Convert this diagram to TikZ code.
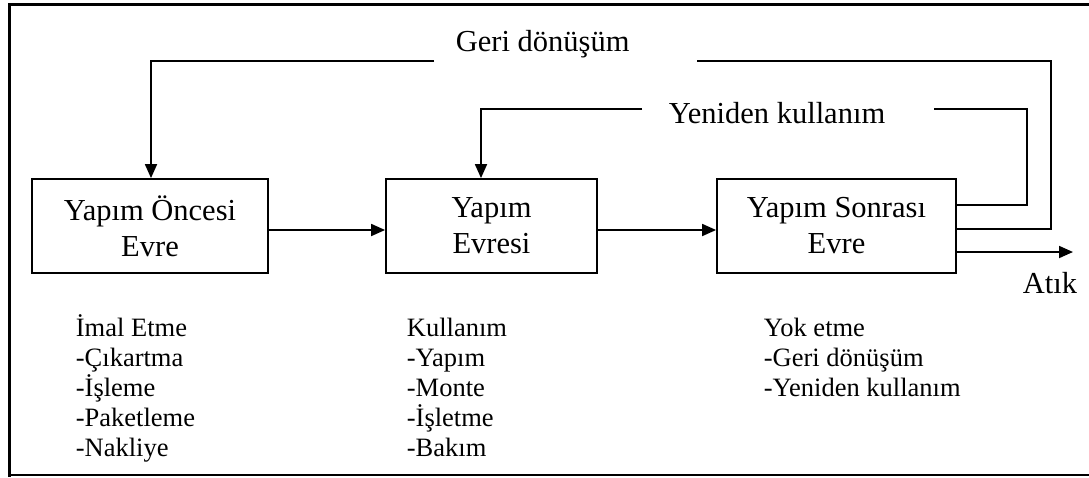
\documentclass[tikz,border=0pt]{standalone}
\usepackage{fontspec}
\setmainfont{Liberation Serif}
\usetikzlibrary{arrows.meta}
\begin{document}
\begin{tikzpicture}[x=1pt,y=-1pt,
  line width=1.8pt,
  phase/.style={draw, line width=1.8pt, minimum height=94pt, inner sep=0pt, align=center,
    font=\fontsize{30.5}{36}\selectfont},
  lbl/.style={inner sep=0pt, anchor=base west, font=\fontsize{30.5}{36}\selectfont},
  lst/.style={inner sep=0pt, anchor=base west, align=left, font=\fontsize{26.5}{30}\selectfont},
  arr/.style={-{Triangle[length=14pt,width=12pt]}},
  ]
\useasboundingbox (0,0) rectangle (1089,477);
% frame
\draw[line width=3pt] (9.5,477) -- (9.5,4.5) -- (1089,4.5);
\draw[line width=2pt] (9.5,474.5) -- (1089,474.5);

% boxes
\node[phase, minimum width=236pt] (box1) at (150,226) {Yapım Öncesi\\Evre};
\node[phase, minimum width=211pt] (box2) at (491.5,226) {Yapım\\Evresi};
\node[phase, minimum width=239pt] (box3) at (836.5,226) {Yapım Sonrası\\Evre};

% forward arrows
\draw[arr] ([yshift=-4pt]box1.east) -- ([yshift=-4pt]box2.west);
\draw[arr] ([yshift=-4pt]box2.east) -- ([yshift=-4pt]box3.west);

% Geri dönüşüm loop
\coordinate (g1) at (1051,61);
\coordinate (g2) at (697,61);
\coordinate (g3) at (434,61);
\coordinate (g4) at (151,61);
\draw ([yshift=-3pt]box3.east) -| (g1) -- (g2);
\draw[arr] (g3) -- (g4) -- (g4 |- box1.north);
\node[lbl] (geri) at (455,51) {Geri dönüşüm};

% Yeniden kullanım loop
\coordinate (y1) at (1027,109);
\coordinate (y2) at (934,109);
\coordinate (y3) at (642,109);
\coordinate (y4) at (481,109);
\draw ([yshift=21pt]box3.east) -| (y1) -- (y2);
\draw[arr] (y3) -- (y4) -- (y4 |- box2.north);
\node[lbl] (yeniden) at (668,123) {Yeniden kullanım};

% waste
\coordinate (w) at (1073,252);
\draw[arr] ([yshift=-26pt]box3.east) -- (w);
\node[lbl] (atik) at (1022,293) {Atık};

% lists (anchor at baseline of the last line)
\node[lst] (l1) at (75,456) {İmal Etme\\-Çıkartma\\-İşleme\\-Paketleme\\-Nakliye};
\node[lst] (l2) at (406,456) {Kullanım\\-Yapım\\-Monte\\-İşletme\\-Bakım};
\node[lst] (l3) at (763,396) {Yok etme\\-Geri dönüşüm\\-Yeniden kullanım};
\end{tikzpicture}
\end{document}
